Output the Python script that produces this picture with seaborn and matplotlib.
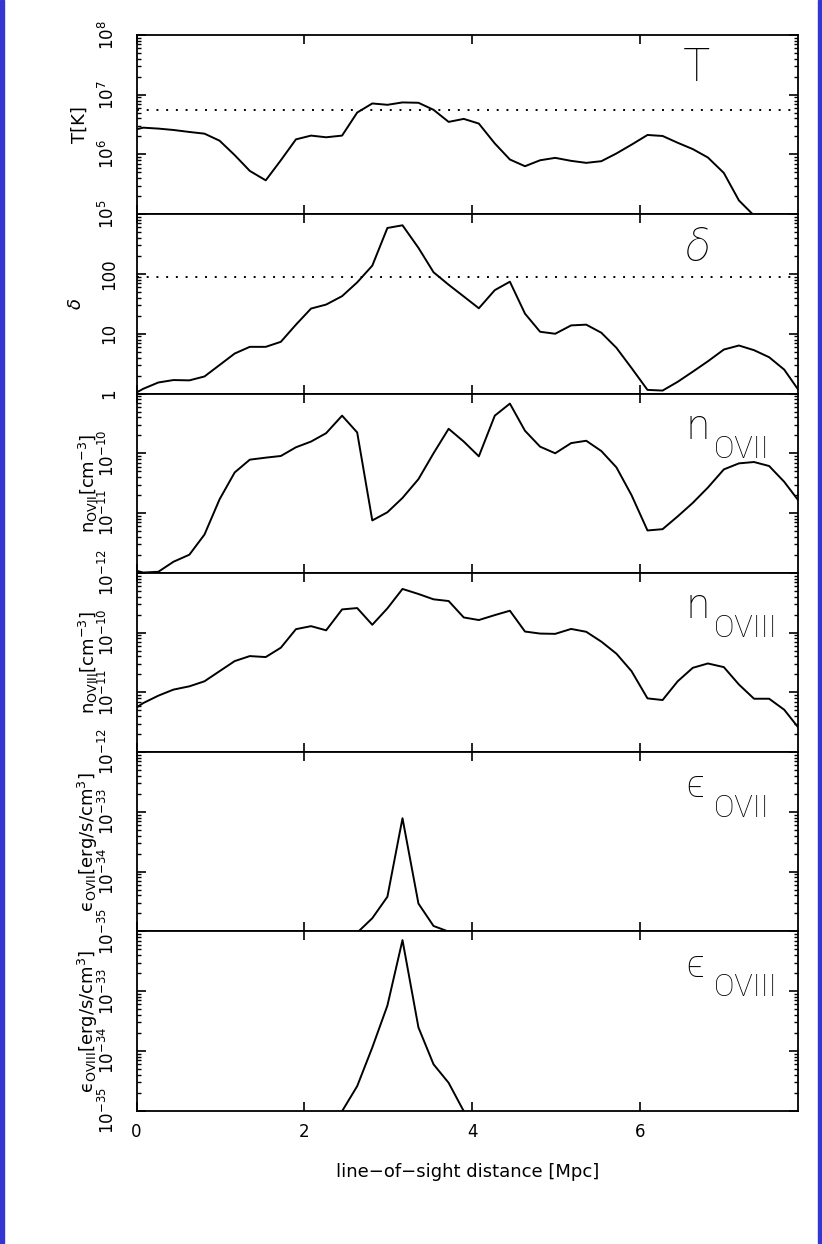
import numpy as np
import matplotlib
matplotlib.use("Agg")
import matplotlib.pyplot as plt
import matplotlib.ticker as mticker
from matplotlib.patches import Rectangle
import seaborn as sns

# line-of-sight positions [Mpc]
dist = [0.0, 0.08, 0.26, 0.44, 0.63, 0.81, 0.99, 1.17, 1.35, 1.54, 1.72,
        1.90, 2.08, 2.26, 2.45, 2.63, 2.81, 2.99, 3.17, 3.36, 3.54,
        3.72, 3.90, 4.08, 4.27, 4.45, 4.63, 4.81, 4.99, 5.18, 5.36,
        5.54, 5.72, 5.90, 6.09, 6.27, 6.45, 6.63, 6.81, 7.00, 7.18,
        7.36, 7.54, 7.72, 7.91]

# temperature [K]
temp_k = [2.64e6, 2.81e6, 2.71e6, 2.57e6, 2.38e6, 2.23e6, 1.70e6, 9.75e5, 5.31e5,
          3.69e5, 8.0e5, 1.79e6, 2.07e6, 1.94e6, 2.07e6, 5.03e6, 7.14e6, 6.78e6,
          7.43e6, 7.33e6, 5.59e6, 3.51e6, 3.94e6, 3.29e6, 1.53e6, 8.24e5, 6.36e5,
          8.0e5, 8.78e5, 7.82e5, 7.24e5, 7.72e5, 1.04e6, 1.46e6, 2.12e6, 2.04e6,
          1.57e6, 1.23e6, 8.9e5, 4.91e5, 1.70e5, 9.5e4, 6e4, 5e4, 4e4]

# overdensity
delta = [1.04, 1.20, 1.53, 1.68, 1.66, 1.93, 3.0, 4.67, 6.04, 6.04, 7.33, 14.2,
         26.4, 30.8, 42.6, 72.4, 138, 589, 653, 274, 107, 66.1, 42.1, 26.7, 53.7,
         74.3, 21.7, 10.8, 10.0, 13.8, 14.2, 10.4, 5.81, 2.67, 1.15, 1.12, 1.57,
         2.32, 3.46, 5.44, 6.36, 5.31, 4.05, 2.51, 1.04]

# ion densities [cm^-3]
n_ovii = [1.08e-12, 1.01e-12, 1.04e-12, 1.53e-12, 2.01e-12, 4.37e-12, 1.70e-11,
          4.78e-11, 7.82e-11, 8.45e-11, 9.01e-11, 1.26e-10, 1.57e-10, 2.17e-10,
          4.26e-10, 2.23e-10, 7.52e-12, 1.03e-11, 1.79e-11, 3.69e-11, 1.0e-10,
          2.57e-10, 1.57e-10, 8.89e-11, 4.26e-10, 6.78e-10, 2.38e-10, 1.29e-10,
          1.0e-10, 1.48e-10, 1.62e-10, 1.09e-10, 5.81e-11, 1.99e-11, 5.11e-12,
          5.37e-12, 8.79e-12, 1.48e-11, 2.67e-11, 5.37e-11, 6.78e-11, 7.14e-11,
          6.12e-11, 3.33e-11, 1.48e-11]

n_oviii = [5.58e-12, 6.61e-12, 8.79e-12, 1.11e-11, 1.26e-11, 1.53e-11, 2.26e-11,
           3.33e-11, 4.04e-11, 3.89e-11, 5.58e-11, 1.14e-10, 1.28e-10, 1.09e-10,
           2.44e-10, 2.57e-10, 1.35e-10, 2.54e-10, 5.37e-10, 4.42e-10, 3.60e-10,
           3.37e-10, 1.79e-10, 1.62e-10, 1.96e-10, 2.32e-10, 1.04e-10, 9.62e-11,
           9.51e-11, 1.15e-10, 1.03e-10, 7.05e-11, 4.43e-11, 2.26e-11, 7.92e-12,
           7.43e-12, 1.53e-11, 2.57e-11, 3.04e-11, 2.64e-11, 1.35e-11, 7.81e-12,
           7.81e-12, 5.11e-12, 2.35e-12]

# emissivities [erg/s/cm^3], only the part near the peak is above 1e-35
eps7_dist = [2.63, 2.81, 2.99, 3.17, 3.36, 3.54, 3.72]
eps_ovii = [9.5e-36, 1.66e-35, 3.79e-35, 7.82e-34, 2.92e-35, 1.23e-35, 9.9e-36]
eps8_dist = [2.45, 2.63, 2.81, 2.99, 3.17, 3.36, 3.54, 3.72, 3.90]
eps_oviii = [9.8e-36, 2.57e-35, 1.14e-34, 5.73e-34, 7.14e-33, 2.47e-34, 5.96e-35,
             2.92e-35, 9.8e-36]

# dotted reference levels
t_level = 5.6e6
delta_level = 90

x_ticks = [0, 2, 4, 6]
t_ticks = [1e5, 1e6, 1e7, 1e8]
t_labels = [r'$10^{5}$', r'$10^{6}$', r'$10^{7}$', r'$10^{8}$']
d_ticks = [1, 10, 100, 1000]
d_labels = ['1', '10', '100', '']
n_ticks = [1e-12, 1e-11, 1e-10, 1e-9]
n_labels = [r'$10^{-12}$', r'$10^{-11}$', r'$10^{-10}$', '']
e_ticks = [1e-35, 1e-34, 1e-33, 1e-32]
e_labels = [r'$10^{-35}$', r'$10^{-34}$', r'$10^{-33}$', '']

sns.set_style("ticks")
plt.rcParams['font.family'] = ['DejaVu Sans']
plt.rcParams['mathtext.fontset'] = 'dejavusans'
for key in ['text.color', 'axes.labelcolor', 'xtick.color', 'ytick.color',
            'axes.edgecolor']:
    plt.rcParams[key] = 'black'

fig, axes = plt.subplots(6, 1, figsize=(8.22, 12.44), dpi=100, sharex=True)
fig.subplots_adjust(left=0.1661, right=0.9708, top=0.9719, bottom=0.1072, hspace=0)

panels = [
    (dist, temp_k, (1e5, 1e8), t_ticks, t_labels, 'T[K]', -0.073),
    (dist, delta, (1, 1000), d_ticks, d_labels, r'$\delta$', -0.078),
    (dist, n_ovii, (1e-12, 1e-9), n_ticks, n_labels,
     r'n$_{\rm OVII}$[cm$^{-3}$]', -0.055),
    (dist, n_oviii, (1e-12, 1e-9), n_ticks, n_labels,
     r'n$_{\rm OVIII}$[cm$^{-3}$]', -0.055),
    (eps7_dist, eps_ovii, (1e-35, 1e-32), e_ticks, e_labels,
     '\u03f5$_{\\rm OVII}$[erg/s/cm$^{3}$]', -0.055),
    (eps8_dist, eps_oviii, (1e-35, 1e-32), e_ticks, e_labels,
     '\u03f5$_{\\rm OVIII}$[erg/s/cm$^{3}$]', -0.055),
]

for ax, (xs, ys, ylim, ticks, labels, ylab, labx) in zip(axes, panels):
    sns.lineplot(x=xs, y=ys, ax=ax, color='black', linewidth=1.4,
                 estimator=None, sort=False)
    ax.set_yscale('log')
    ax.set_ylim(*ylim)
    ax.set_xlim(0, 7.884)
    ax.xaxis.set_major_locator(mticker.FixedLocator(x_ticks))
    ax.yaxis.set_major_locator(mticker.FixedLocator(ticks))
    ax.yaxis.set_major_formatter(mticker.FixedFormatter(labels))
    ax.yaxis.set_minor_locator(mticker.LogLocator(base=10, subs=np.arange(2, 10), numticks=20))
    ax.yaxis.set_minor_formatter(mticker.NullFormatter())
    ax.xaxis.set_minor_locator(mticker.NullLocator())
    ax.tick_params(axis='both', which='both', direction='in', top=True, right=True,
                   colors='black')
    ax.tick_params(axis='both', which='major', length=6.8, width=1.2)
    ax.tick_params(axis='both', which='minor', length=3, width=1.0)
    ax.tick_params(axis='y', which='major', labelsize=12, labelrotation=90, pad=13)
    ax.tick_params(axis='x', which='major', labelsize=12, pad=9)
    for lbl in ax.get_yticklabels():
        lbl.set_va('center')
    for sp in ax.spines.values():
        sp.set_linewidth(1.3)
        sp.set_color('black')
    ax.set_ylabel(ylab, fontsize=13, color='black')
    ax.yaxis.set_label_coords(labx, 0.5)

axes[0].axhline(t_level, color='black', linewidth=1.4, linestyle=(0, (1, 4)))
axes[1].axhline(delta_level, color='black', linewidth=1.4, linestyle=(0, (1, 4)))

# panel tags in a thin font
tag_font = ['Roboto', 'DejaVu Sans']
axes[0].text(0.826, 0.743, 'T', transform=axes[0].transAxes, fontsize=33,
             family=tag_font, fontweight='light', color='black',
             ha='left', va='baseline')
axes[1].text(0.831, 0.741, '\u03b4', transform=axes[1].transAxes, fontsize=32,
             family=tag_font, fontweight='light', style='italic', color='black',
             ha='left', va='baseline')
for ax, main, sub, size in [(axes[2], 'n', 'OVII', 30), (axes[3], 'n', 'OVIII', 30),
                            (axes[4], '\u03f5', 'OVII', 28), (axes[5], '\u03f5', 'OVIII', 28)]:
    ax.text(0.831, 0.747, main, transform=ax.transAxes, fontsize=size,
            family=tag_font, fontweight='light', color='black',
            ha='left', va='baseline')
    ax.text(0.873, 0.64, sub, transform=ax.transAxes, fontsize=22,
            family=tag_font, fontweight='light', color='black',
            ha='left', va='baseline')

axes[-1].set_xlabel('line\u2212of\u2212sight distance [Mpc]', fontsize=13,
                    labelpad=16, color='black')

# blue frame at the sides
fig.add_artist(Rectangle((0, 0), 4 / 822, 1, transform=fig.transFigure,
                         color='#3535d2', zorder=10))
fig.add_artist(Rectangle((1 - 4 / 822, 0), 4 / 822, 1, transform=fig.transFigure,
                         color='#3535d2', zorder=10))

fig.savefig("out.png", dpi=100, facecolor='white')
